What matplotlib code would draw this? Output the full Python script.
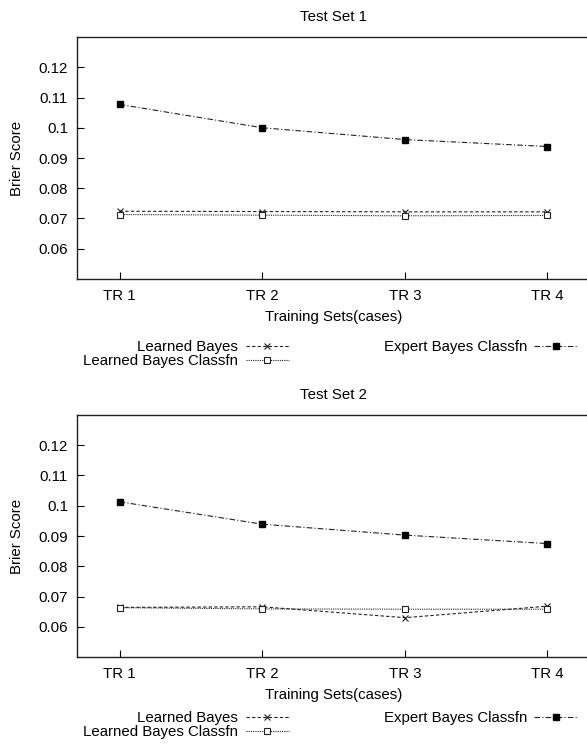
import numpy as np
import matplotlib
matplotlib.use('Agg')
import matplotlib.pyplot as plt

plt.rcParams['font.family'] = ['Liberation Sans', 'DejaVu Sans']

training_sets = ['TR 1', 'TR 2', 'TR 3', 'TR 4']
y_ticks = [0.06, 0.07, 0.08, 0.09, 0.1, 0.11, 0.12]
y_tick_labels = ['0.06', '0.07', '0.08', '0.09', '0.1', '0.11', '0.12']

# Test Set 1
ts1_learned = [0.0724, 0.0723, 0.0722, 0.0722]
ts1_learned_classfn = [0.0713, 0.0711, 0.0709, 0.0710]
ts1_expert = [0.1077, 0.1000, 0.0961, 0.0938]

# Test Set 2
ts2_learned = [0.0664, 0.0666, 0.0630, 0.0668]
ts2_learned_classfn = [0.0663, 0.0659, 0.0658, 0.0658]
ts2_expert = [0.1013, 0.0939, 0.0903, 0.0875]

panels = [('Test Set 1', ts1_learned, ts1_learned_classfn, ts1_expert),
          ('Test Set 2', ts2_learned, ts2_learned_classfn, ts2_expert)]

W, H = 587, 746
fs = 10.8
fig = plt.figure(figsize=(W / 100, H / 100), dpi=100)

# axes boxes in pixels: (left, top, right, bottom)
boxes = [(77, 37, 590, 279), (77, 415, 590, 657)]
legend_tops = [340, 711]

lc = '#222222'
for (title, lb, lbc, eb), (l, t, r, b), lt in zip(panels, boxes, legend_tops):
    ax = fig.add_axes([l / W, 1 - b / H, (r - l) / W, (b - t) / H])
    x = np.arange(1, len(training_sets) + 1)
    ax.plot(x, lb, linestyle=(0, (3, 2)), color=lc, lw=0.8, marker='x', ms=5,
            mew=0.8, label='Learned Bayes')
    ax.plot(x, lbc, linestyle=(0, (1, 1)), color=lc, lw=0.8, marker='s', ms=5,
            mfc='white', mew=0.8, label='Learned Bayes Classfn')
    ax.plot(x, eb, linestyle=(0, (5, 2, 1, 2)), color=lc, lw=0.8, marker='s',
            ms=5, mfc='black', mec='black', label='Expert Bayes Classfn')
    ax.set_xlim(0.7, 4.3)
    ax.set_ylim(0.05, 0.13)
    ax.set_xticks(x)
    ax.set_xticklabels(training_sets)
    ax.set_yticks(y_ticks)
    ax.set_yticklabels(y_tick_labels)
    ax.tick_params(direction='in', length=5, width=0.8, labelsize=fs)
    ax.tick_params(axis='y', pad=6.5)
    ax.tick_params(axis='x', pad=7.5)
    for s in ax.spines.values():
        s.set_linewidth(1.0)
        s.set_color('#222222')
    ax.set_title(title, fontsize=fs, pad=11.5)
    ax.set_xlabel('Training Sets(cases)', fontsize=fs, labelpad=5)
    ax.set_ylabel('Brier Score', fontsize=fs, labelpad=10)
    ax.legend(loc='upper left', bbox_to_anchor=(83 / W, 1 - lt / H),
              bbox_transform=fig.transFigure, ncol=2, frameon=False,
              markerfirst=False, numpoints=1, fontsize=fs, handlelength=2.9,
              handletextpad=0.5, columnspacing=6.3, labelspacing=0.0,
              borderaxespad=0, borderpad=0)

fig.savefig('out.png', dpi=100)
